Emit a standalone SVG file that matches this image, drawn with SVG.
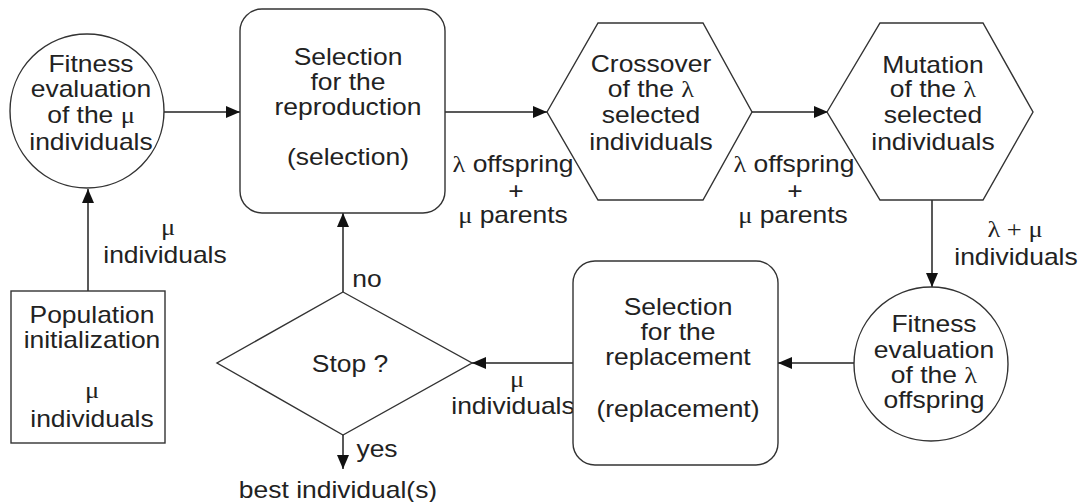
<svg xmlns="http://www.w3.org/2000/svg" width="1079" height="502" viewBox="0 0 1079 502">
<style>
.s{fill:#fff;stroke:#333;stroke-width:1.4}
.c{fill:none;stroke:#222;stroke-width:1.5}
text{font-family:"Liberation Sans",Arial,sans-serif;font-size:23px;fill:#222;text-anchor:middle;transform-box:fill-box;transform-origin:center;transform:scaleX(1.15)}
.g{font-family:"Liberation Serif","Times New Roman",serif}
</style>
<defs>
<marker id="ah" markerUnits="userSpaceOnUse" markerWidth="14" markerHeight="12" refX="14" refY="6" orient="auto">
<path d="M0,0 L14,6 L0,12 z" fill="#111"/>
</marker>
</defs>
<rect width="1079" height="502" fill="#fff"/>
<g id="connectors">
<path class="c" d="M164,112 H240" marker-end="url(#ah)"/>
<path class="c" d="M445,112 H547" marker-end="url(#ah)"/>
<path class="c" d="M752,112 H828" marker-end="url(#ah)"/>
<path class="c" d="M932,200 V287" marker-end="url(#ah)"/>
<path class="c" d="M854,363 H778" marker-end="url(#ah)"/>
<path class="c" d="M573,363 H472" marker-end="url(#ah)"/>
<path class="c" d="M343,292 V213" marker-end="url(#ah)"/>
<path class="c" d="M343,435 V469" marker-end="url(#ah)"/>
<path class="c" d="M88,291 V189" marker-end="url(#ah)"/>
<text x="168" y="235"><tspan class="g">μ</tspan></text>
<text x="165" y="263">individuals</text>
<text x="513" y="172"><tspan class="g">λ</tspan> offspring</text>
<text x="516" y="199">+</text>
<text x="513" y="223"><tspan class="g">μ</tspan> parents</text>
<text x="794" y="172"><tspan class="g">λ</tspan> offspring</text>
<text x="795" y="199">+</text>
<text x="793" y="223"><tspan class="g">μ</tspan> parents</text>
<text x="1015" y="237"><tspan class="g">λ + μ</tspan></text>
<text x="1016" y="265">individuals</text>
<text x="517" y="387"><tspan class="g">μ</tspan></text>
<text x="513" y="414">individuals</text>
<text x="367" y="287">no</text>
<text x="377" y="457">yes</text>
<text x="338" y="498">best individual(s)</text>
</g>
<g id="fitness1">
<circle class="s" cx="87" cy="111" r="77"/>
<text x="91" y="72">Fitness</text>
<text x="91" y="97">evaluation</text>
<text x="91" y="123">of the <tspan class="g">μ</tspan></text>
<text x="91" y="150">individuals</text>
</g>
<g id="selection-reproduction">
<rect class="s" x="240" y="9" width="205" height="204" rx="22"/>
<text x="348" y="65">Selection</text>
<text x="348" y="90">for the</text>
<text x="348" y="115">reproduction</text>
<text x="348" y="165">(selection)</text>
</g>
<g id="crossover">
<polygon class="s" points="547,112 598,23 703,23 752,112 703,200 598,200"/>
<text x="651" y="72">Crossover</text>
<text x="651" y="97">of the <tspan class="g">λ</tspan></text>
<text x="651" y="123">selected</text>
<text x="651" y="150">individuals</text>
</g>
<g id="mutation">
<polygon class="s" points="827,112 880,23 983,23 1033,112 983,200 880,200"/>
<text x="933" y="73">Mutation</text>
<text x="933" y="97">of the <tspan class="g">λ</tspan></text>
<text x="933" y="123">selected</text>
<text x="933" y="150">individuals</text>
</g>
<g id="fitness2">
<circle class="s" cx="931" cy="364" r="77"/>
<text x="934" y="332">Fitness</text>
<text x="934" y="358">evaluation</text>
<text x="934" y="383">of the <tspan class="g">λ</tspan></text>
<text x="934" y="408">offspring</text>
</g>
<g id="selection-replacement">
<rect class="s" x="573" y="261" width="205" height="204" rx="22"/>
<text x="678" y="315">Selection</text>
<text x="678" y="340">for the</text>
<text x="678" y="365">replacement</text>
<text x="678" y="417">(replacement)</text>
</g>
<g id="stop">
<polygon class="s" points="343,292 472,363 343,435 217,363"/>
<text x="350" y="372">Stop ?</text>
</g>
<g id="population">
<rect class="s" x="11" y="291" width="154" height="152"/>
<text x="92" y="323">Population</text>
<text x="92" y="348">initialization</text>
<text x="92" y="398"><tspan class="g">μ</tspan></text>
<text x="92" y="427">individuals</text>
</g>
</svg>
